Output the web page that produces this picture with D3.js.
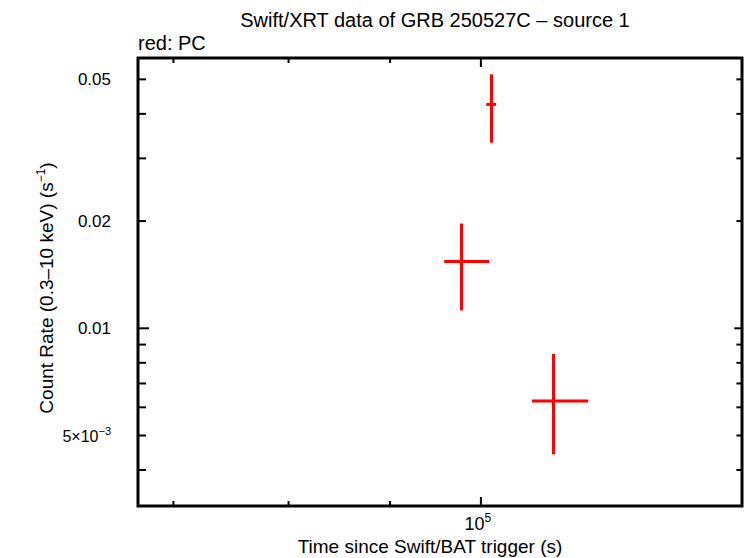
<!DOCTYPE html>
<html>
<head>
<meta charset="utf-8">
<script src="https://cdn.jsdelivr.net/npm/d3@7"></script>
<style>
body { margin: 0; background: #fff; }
text { font-family: "Liberation Sans", Arial, sans-serif; fill: #000; }
</style>
</head>
<body>
<div id="chart"></div>
<script>
// PC mode points: time (s), time errors, rate, rate errors
var times = [97773, 101240, 108790];
var timeLo = [95827, 100620, 106100];
var timeHi = [100969, 101790, 113270];
var rates = [0.01539, 0.04252, 0.006253];
var rateLo = [0.01123, 0.03321, 0.004427];
var rateHi = [0.01968, 0.05166, 0.008476];

var yTickVals = [0.05, 0.02, 0.01, 0.005];
var yTickLabels = ["0.05", "0.02", "0.01", "5\u00d710"];
var yMinorVals = [0.004, 0.006, 0.007, 0.008, 0.009, 0.03, 0.04];
var xTickVals = [1e5];
var xMinorVals = [7e4, 8e4, 9e4];

var W = 746, H = 558;
var pl = 138, pr = 742, pt = 58, pb = 506;

var svg = d3.select("#chart").append("svg")
	.attr("width", W)
	.attr("height", H);

var x = d3.scaleLog().domain([67180, 135380]).range([pl, pr]);
var y = d3.scaleLog().domain([0.00317, 0.0574]).range([pb, pt]);

// ticks on all four sides
function vTicks(vals, len) {
	vals.forEach(function(v) {
		svg.append("line").attr("x1", pl).attr("x2", pl + len)
			.attr("y1", y(v)).attr("y2", y(v))
			.attr("stroke", "#000").attr("stroke-width", 2);
		svg.append("line").attr("x1", pr).attr("x2", pr - len * 0.7)
			.attr("y1", y(v)).attr("y2", y(v))
			.attr("stroke", "#000").attr("stroke-width", 2);
	});
}
function hTicks(vals, len) {
	vals.forEach(function(v) {
		svg.append("line").attr("x1", x(v)).attr("x2", x(v))
			.attr("y1", pb).attr("y2", pb - len)
			.attr("stroke", "#000").attr("stroke-width", 2);
		svg.append("line").attr("x1", x(v)).attr("x2", x(v))
			.attr("y1", pt).attr("y2", pt + len)
			.attr("stroke", "#000").attr("stroke-width", 2);
	});
}
vTicks(yMinorVals.concat([0.05, 0.02, 0.005]), 8);
vTicks([0.01], 11);
hTicks(xMinorVals, 5);
hTicks(xTickVals, 9);

svg.append("rect")
	.attr("x", pl).attr("y", pt)
	.attr("width", pr - pl).attr("height", pb - pt)
	.attr("fill", "none").attr("stroke", "#000").attr("stroke-width", 3);

// y tick labels
yTickVals.forEach(function(v, i) {
	var t = svg.append("text")
		.attr("x", 111).attr("y", y(v) + 6)
		.attr("text-anchor", "end")
		.attr("font-size", (i == 3 ? 16 : 17) + "px");
	if (i == 3) {
		t.attr("x", 111).text(yTickLabels[i]);
		t.append("tspan").attr("dy", -7).attr("font-size", "11px").text("\u22123");
	} else {
		t.text(yTickLabels[i]);
	}
});

// x tick label
var xl = svg.append("text").attr("x", x(1e5) - 3).attr("y", 530)
	.attr("text-anchor", "middle").attr("font-size", "18px").text("10");
xl.append("tspan").attr("dy", -8).attr("font-size", "12px").text("5");

// titles
svg.append("text").attr("x", 435).attr("y", 27)
	.attr("text-anchor", "middle").attr("font-size", "20px")
	.text("Swift/XRT data of GRB 250527C \u2013 source 1");
svg.append("text").attr("x", 138).attr("y", 50)
	.attr("font-size", "20px").text("red: PC");
svg.append("text").attr("x", 430).attr("y", 553)
	.attr("text-anchor", "middle").attr("font-size", "19px")
	.text("Time since Swift/BAT trigger (s)");
var yl = svg.append("text")
	.attr("transform", "translate(53," + 288 + ") rotate(-90)")
	.attr("text-anchor", "middle").attr("font-size", "19px")
	.text("Count Rate (0.3\u201310 keV) (s");
yl.append("tspan").attr("dy", -8).attr("font-size", "12px").text("\u22121");
yl.append("tspan").attr("dy", 8).text(")");

// error bars
var g = svg.append("g").attr("stroke", "#ff0000").attr("stroke-width", 3);
g.selectAll("line.xe").data(times).enter().append("line")
	.attr("x1", function(d, i) { return x(timeLo[i]); })
	.attr("x2", function(d, i) { return x(timeHi[i]); })
	.attr("y1", function(d, i) { return y(rates[i]); })
	.attr("y2", function(d, i) { return y(rates[i]); });
g.selectAll("line.ye").data(times).enter().append("line")
	.attr("x1", function(d) { return x(d); })
	.attr("x2", function(d) { return x(d); })
	.attr("y1", function(d, i) { return y(rateLo[i]); })
	.attr("y2", function(d, i) { return y(rateHi[i]); });
</script>
</body>
</html>
